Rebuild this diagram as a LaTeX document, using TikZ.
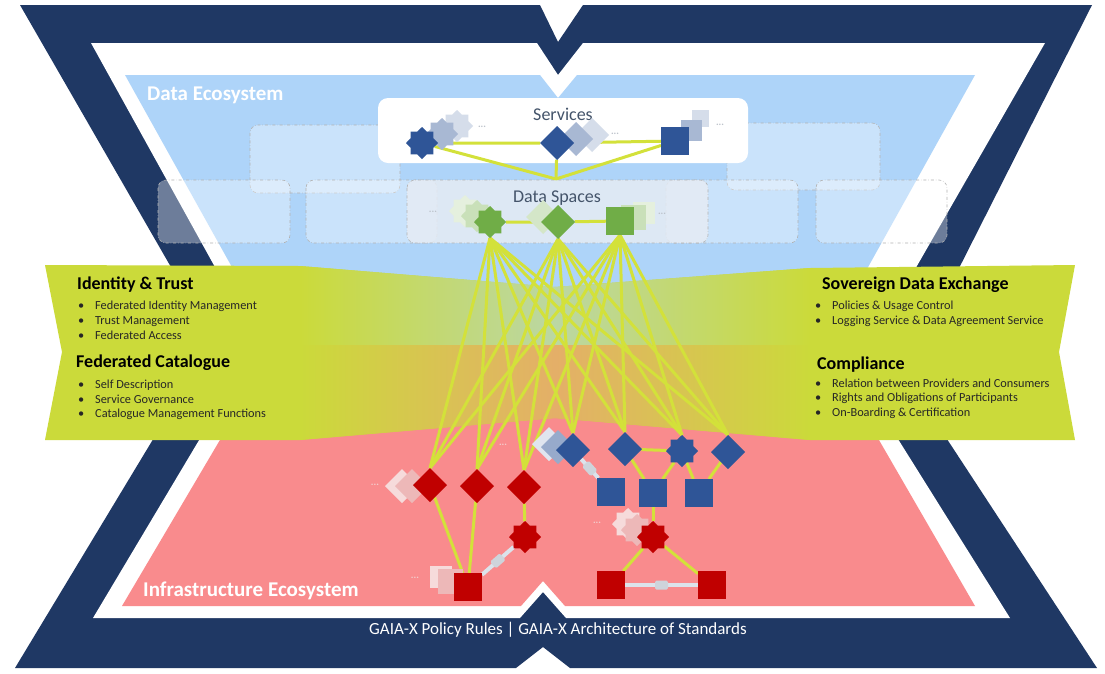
\documentclass[tikz,border=0pt]{standalone}
\usepackage{fontspec}
\setmainfont{Carlito}
\usetikzlibrary{shapes.geometric}

\definecolor{navy}{HTML}{1F3864}
\definecolor{dataeco}{HTML}{AED4F9}
\definecolor{infraeco}{HTML}{F98B8D}
\definecolor{bannercol}{HTML}{CBDA3A}
\definecolor{overblue}{HTML}{BBD7A3}
\definecolor{overpink}{HTML}{E4AF68}
\definecolor{wirecol}{HTML}{D3E13A}
\definecolor{nodeblue}{HTML}{2F5597}
\definecolor{nodegreen}{HTML}{70AD47}
\definecolor{nodered}{HTML}{C00000}
\definecolor{slate}{HTML}{44546A}
\definecolor{pipecol}{HTML}{DCE3EB}
\definecolor{spacefill}{HTML}{E6ECF4}

\pgfdeclarelayer{back}
\pgfdeclarelayer{links}
\pgfsetlayers{back,links,main}

\newcommand{\gxitem}{\makebox[17pt][l]{•}}

\begin{document}
\begin{tikzpicture}[x=1pt,y=-1pt,
	sstar/.style={star,star points=8,star point ratio=1.3,inner sep=0,outer sep=0,minimum size=32pt},
	sdiam/.style={diamond,inner sep=0,outer sep=0,minimum size=34pt},
	ssq/.style={rectangle,inner sep=0,outer sep=0,minimum size=28pt},
	wire/.style={draw=wirecol,line width=3pt},
	pipe/.style={draw=pipecol,line width=4pt},
	pipebox/.style={fill=pipecol!85!gray,rounded corners=1.5pt,inner sep=0,minimum width=13pt,minimum height=9pt,sloped},
	ghost/.style={fill=white,fill opacity=0.35,draw=gray!60,dash dot,line width=0.6pt,rounded corners=8pt},
	head/.style={anchor=west,inner sep=0,text=black,font=\fontsize{18}{20}\selectfont\bfseries,text height=12pt,text depth=3.5pt},
	entry/.style={anchor=west,inner sep=0,text=black!85,font=\fontsize{12.3}{14}\selectfont,text height=8.5pt,text depth=2.5pt},
	eco/.style={anchor=west,inner sep=0,text=white,font=\fontsize{21}{24}\selectfont\bfseries},
	boxlabel/.style={text=slate,inner sep=0,font=\fontsize{18}{20}\selectfont},
	etc/.style={text=slate!35!white,inner sep=0,font=\fontsize{10}{10}\selectfont\bfseries}]
	\useasboundingbox (0,0) rectangle (1105,673);
	\begin{pgfonlayer}{back}
		\fill[white] (0,0) rectangle (1105,673);
		\fill[navy] (20,5) -- (540,5) -- (558,42) -- (583,5) -- (1092,5) -- (905,375) -- (1097,668) -- (570,668) -- (543,647) -- (516,668) -- (15,668) -- (213,340) -- cycle;
		\fill[white] (91,43) -- (537,43) -- (558,75) -- (583,43) -- (1045,43) -- (856,372) -- (1010,618) -- (566,618) -- (543,592) -- (520,618) -- (93,618) -- (257,343) -- cycle;
		\fill[dataeco] (125,75) -- (540,75) -- (558,98) -- (577,75) -- (975,75) -- (823,348) -- (277,348) -- cycle;
		\fill[infraeco] (276,345) -- (824,345) -- (975,606) -- (565,606) -- (543,581) -- (521,606) -- (122,606) -- cycle;
		\draw[ghost] (250,125) rectangle (400,193);
		\draw[ghost] (727,123) rectangle (880,190);
		\draw[ghost] (158,180) rectangle (290,243);
		\draw[ghost] (306,180) rectangle (437,243);
		\draw[ghost] (666,180) rectangle (798,243);
		\draw[ghost] (816,180) rectangle (947,243);
		\fill[white,rounded corners=10pt] (378,98) rectangle (748,163);
		\draw[fill=spacefill,fill opacity=0.85,draw=gray!60,dash dot,line width=0.6pt,rounded corners=8pt] (407,180) rectangle (708,243);
		\fill[bannercol] (45,265) -- (300,266) -- (555,287) -- (810,268) -- (1075,265) -- (1059,352) -- (1075,440) -- (810,440) -- (555,418) -- (300,440) -- (45,440) -- (62,352) -- cycle;
		\shade[left color=bannercol,right color=bannercol,middle color=overblue] (300,266) -- (555,287) -- (810,268) -- (810,345) -- (300,345) -- cycle;
		\shade[left color=bannercol,right color=bannercol,middle color=overpink] (300,345) -- (810,345) -- (810,440) -- (555,418) -- (300,440) -- cycle;
	\end{pgfonlayer}

	\node[eco] (declabel) at (147,95) {Data Ecosystem};
	\node[eco] (ieclabel) at (143,591) {Infrastructure Ecosystem};
	\node[boxlabel] (svlabel) at (563,114) {Services};
	\node[boxlabel] (dslabel) at (557,198) {Data Spaces};
	\node[text=white,inner sep=0,font=\fontsize{17}{20}\selectfont] (rules) at (558,630) {GAIA-X Policy Rules | GAIA-X Architecture of Standards};

	\node[head] (idtrust) at (77,285) {Identity \& Trust};
	\node[entry] (idtrust1) at (78,306) {\gxitem Federated Identity Management};
	\node[entry] (idtrust2) at (78,321) {\gxitem Trust Management};
	\node[entry] (idtrust3) at (78,336) {\gxitem Federated Access};
	\node[head] (fedcat) at (76,363) {Federated Catalogue};
	\node[entry] (fedcat1) at (78,385) {\gxitem Self Description};
	\node[entry] (fedcat2) at (78,400) {\gxitem Service Governance};
	\node[entry] (fedcat3) at (78,414) {\gxitem Catalogue Management Functions};
	\node[head] (sovex) at (822,285) {Sovereign Data Exchange};
	\node[entry] (sovex1) at (815,306) {\gxitem Policies \& Usage Control};
	\node[entry] (sovex2) at (815,321) {\gxitem Logging Service \& Data Agreement Service};
	\node[head] (compl) at (817,365) {Compliance};
	\node[entry] (compl1) at (815,384) {\gxitem Relation between Providers and Consumers};
	\node[entry] (compl2) at (815,398) {\gxitem Rights and Obligations of Participants};
	\node[entry] (compl3) at (815,413) {\gxitem On-Boarding \& Certification};

	\node[sstar,fill=nodeblue!20!white] (sv1c) at (457,126) {};
	\node[sstar,fill=nodeblue!42!white] (sv1b) at (442,134) {};
	\node[sstar,fill=nodeblue] (sv1) at (422,143) {};
	\node[sdiam,fill=nodeblue!20!white] (sv2c) at (592,135) {};
	\node[sdiam,fill=nodeblue!42!white] (sv2b) at (576,139) {};
	\node[sdiam,fill=nodeblue] (sv2) at (557,143) {};
	\node[ssq,fill=nodeblue!20!white,minimum size=17pt] (sv3c) at (700,118) {};
	\node[ssq,fill=nodeblue!42!white,minimum size=21pt] (sv3b) at (691,130) {};
	\node[ssq,fill=nodeblue] (sv3) at (675,141) {};
	\coordinate (svjoin) at (556,179);

	\node[sstar,fill=nodegreen!18!white] (ds1c) at (465,211) {};
	\node[sstar,fill=nodegreen!38!white] (ds1b) at (477,216) {};
	\node[sstar,fill=nodegreen] (ds1) at (490,222) {};
	\node[sdiam,fill=nodegreen!30!white] (ds2b) at (543,217) {};
	\node[sdiam,fill=nodegreen] (ds2) at (558,222) {};
	\node[ssq,fill=nodegreen!18!white,minimum size=22pt] (ds3c) at (644,213) {};
	\node[ssq,fill=nodegreen!38!white,minimum size=25pt] (ds3b) at (633,217) {};
	\node[ssq,fill=nodegreen] (ds3) at (620,221) {};

	\node[sdiam,fill=nodered!14!white] (rd1c) at (402,486) {};
	\node[sdiam,fill=nodered!28!white] (rd1b) at (412,486) {};
	\node[sdiam,fill=nodered] (rd1) at (430,485) {};
	\node[sdiam,fill=nodered] (rd2) at (477,486) {};
	\node[sdiam,fill=nodered] (rd3) at (524,487) {};
	\node[sstar,fill=nodered] (rst1) at (525,537) {};
	\node[ssq,fill=nodered!14!white,minimum size=22pt] (rsq1c) at (441,577) {};
	\node[ssq,fill=nodered!28!white,minimum size=25pt] (rsq1b) at (450,581) {};
	\node[ssq,fill=nodered] (rsq1) at (468,587) {};

	\node[sdiam,fill=nodeblue!15!white] (bd1c) at (549,444) {};
	\node[sdiam,fill=nodeblue!50!white] (bd1b) at (558,447) {};
	\node[sdiam,fill=nodeblue] (bd1) at (573,450) {};
	\node[sdiam,fill=nodeblue] (bd2) at (625,449) {};
	\node[sstar,fill=nodeblue] (bst) at (682,451) {};
	\node[sdiam,fill=nodeblue] (bd4) at (728,452) {};
	\node[ssq,fill=nodeblue] (bsq1) at (611,492) {};
	\node[ssq,fill=nodeblue] (bsq2) at (653,493) {};
	\node[ssq,fill=nodeblue] (bsq3) at (699,493) {};

	\node[sstar,fill=nodered!14!white] (rst2c) at (628,524) {};
	\node[sstar,fill=nodered!28!white] (rst2b) at (637,530) {};
	\node[sstar,fill=nodered] (rst2) at (653,537) {};
	\node[ssq,fill=nodered] (rsq2) at (611,585) {};
	\node[ssq,fill=nodered] (rsq3) at (712,585) {};

	\node[etc] (etc1) at (482,127) {...};
	\node[etc] (etc2) at (615,134) {...};
	\node[etc] (etc3) at (720,125) {...};
	\node[etc] (etc4) at (433,212) {...};
	\node[etc] (etc5) at (662,214) {...};
	\node[etc,text=white!80!nodered] (etc6) at (375,485) {...};
	\node[etc,text=white!80!nodered] (etc7) at (415,578) {...};
	\node[etc,text=white!80!nodered] (etc8) at (503,445) {...};
	\node[etc,text=white!80!nodered] (etc9) at (597,523) {...};

	\begin{pgfonlayer}{links}
		\draw[wire] (sv1) -- (sv2) -- (sv3);
		\draw[wire] (sv1) -- (svjoin);
		\draw[wire] (sv2) -- (svjoin);
		\draw[wire] (sv3) -- (svjoin);
		\draw[wire] (ds1) -- (ds2) -- (ds3);
		\foreach \s in {ds1,ds2,ds3}
			\foreach \t in {rd1,rd2,rd3,bd1,bd2,bst,bd4}
				\draw[wire] (\s.south) -- (\t.north);
		\draw[wire] (rd1) -- (rsq1);
		\draw[wire] (rd2) -- (rsq1);
		\draw[wire] (rd3) -- (rst1);
		\draw[wire] (bd2) -- (bst);
		\draw[wire] (bd2) -- (bsq2);
		\draw[wire] (bst) -- (bsq2);
		\draw[wire] (bst) -- (bsq3);
		\draw[wire] (bd4) -- (bsq3);
		\draw[wire] (bsq2) -- (rst2);
		\draw[wire] (rst2) -- (rsq2);
		\draw[wire] (rst2) -- (rsq3);
		\draw[pipe] (rsq1) -- node[pipebox] (pb1) {} (rst1);
		\draw[pipe] (bd1) -- node[pipebox] (pb2) {} (bsq1);
		\draw[pipe] (rsq2) -- node[pipebox] (pb3) {} (rsq3);
	\end{pgfonlayer}
\end{tikzpicture}
\end{document}
